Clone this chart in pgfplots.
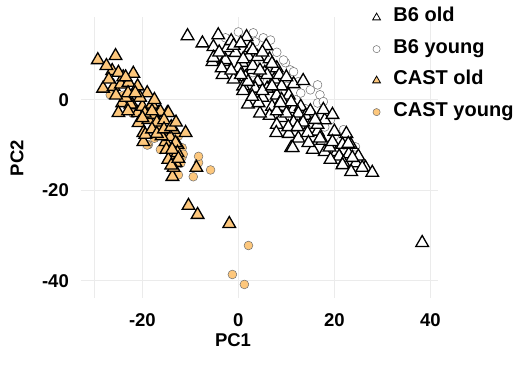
\documentclass[border=0pt]{standalone}
\usepackage{pgfplots}
\pgfplotsset{compat=1.18}
\usepackage{fontspec}
\setmainfont{Liberation Sans}
\definecolor{castorange}{RGB}{253,199,124}
\definecolor{gridgrey}{RGB}{235,235,235}
\definecolor{circgrey}{RGB}{110,110,110}
\begin{document}
\begin{tikzpicture}
\path[use as bounding box] (0pt,0pt) rectangle (518pt,365pt);
\begin{axis}[
  at={(81pt,67pt)}, anchor=south west,
  width=357pt, height=281pt, scale only axis,
  xmin=-32.8, xmax=41.6, ymin=-43.8, ymax=18.3,
  axis line style={draw=none}, tick style={draw=none},
  xtick={-20,0,20,40}, xticklabels={-20,0,20,40},
  ytick={-40,-20,0}, yticklabels={-40,-20,0},
  extra x ticks={-30}, extra x tick labels={},
  extra x tick style={grid=major},
  grid=major, major grid style={color=gridgrey, line width=0.8pt},
  tick label style={font=\fontsize{18.5}{18.5}\selectfont\bfseries, inner sep=0pt},
  xticklabel style={anchor=north, yshift=-15pt},
  yticklabel style={anchor=east, xshift=-12pt},
  xlabel={PC1}, ylabel={PC2},
  every axis x label/.style={at={(axis description cs:0.4258,-0.1495)}, anchor=center, font=\fontsize{18.5}{18.5}\selectfont\bfseries},
  every axis y label/.style={at={(axis description cs:-0.179,0.498)}, anchor=center, rotate=90, font=\fontsize{18.5}{18.5}\selectfont\bfseries},
  legend image code/.code={\draw[#1] plot coordinates {(0pt,0pt)};},
  legend cell align=left,
  legend style={draw=none, fill=none, at={(axis description cs:0.8165,1.027)}, anchor=north west,
    font=\fontsize{20}{20}\selectfont\bfseries, inner sep=0pt, row sep=15.5pt,
    nodes={text height=12pt, text depth=4pt, inner sep=0pt},
    /tikz/every odd column/.style={column sep=13pt}},
]
% B6 young (open circles)
\addplot[forget plot, only marks, mark=*, mark size=4.4pt, mark options={fill=white, draw=circgrey, line width=0.5pt}] coordinates {
(0,15) (-2.7,13.7) (3.1,14.8) (3.5,12.8) (5.2,13.7) (6.7,13.2) (9.8,8.2) (9.4,8.8) (10.8,6.6) (11.5,6.2)
(12.5,4) (15,2.2) (16.5,3.3) (17,1.1) (16.5,-0.7) (17.7,-0.4) (19.2,-4.4) (21.9,-6.6) (24.4,-10.4)
(2,10) (5,8) (7,6) (10,3) (12,0) (14,-2) (16,-4) (18,-6) (20,-8) (22,-10) (6,4) (8,2) (3,6) (8,10.5) (13,1.5)
};
% CAST young (orange circles)
\addplot[forget plot, only marks, mark=*, mark size=4.4pt, mark options={fill=castorange, draw=circgrey, line width=0.5pt}] coordinates {
(2.1,-32.2) (-1.25,-38.6) (1.25,-40.8) (-5.8,-15.5) (-9.4,-17) (-8.3,-13.9) (-12.5,-16.6) (-11.7,-12.6)
(-11.7,-10.6) (-16.25,-11) (-18.75,-9.9) (-26.7,1.1) (-19,-10) (-12,-14) (-22,-3) (-15,-7) (-12.5,-8)
(-17.5,-8.5) (-24,1) (-20,-2) (-11.5,-12) (-8.3,-12.5)
};
% B6 old (white triangles)
\addplot[forget plot, only marks, mark=triangle*, mark size=7.3pt, mark options={fill=white, draw=black, line width=1.3pt}] coordinates {
(-10.6,14.1) (1.7,13.9) (-4.2,14.3) (-5.2,11.7) (-5.4,8.4) (-3.1,8.4) (-3.3,5.5) (-2.1,10.6) (-0.6,10.4)
(2.5,11.5) (5.8,11.9) (-5.2,9.3) (-2.7,8.8) (2.1,9.5) (0.8,8.2) (2.9,6.6) (-2.3,11.5)
(0,7) (1.5,5) (3,7.5) (4,4) (5.5,6) (6,2.5) (7.5,4.5) (8,1) (9,3) (9.5,-1.5) (10.5,1) (11.5,-2) (12,-4)
(13,-1.5) (14,-3.5) (15,-5.5) (5,0.5) (7,-1.5) (3.5,2.5) (1,3) (-1,4.5) (6.5,-3.5) (9,-4) (10.5,-7.5)
(12.5,-8.5) (16.5,-7) (17.5,-9) (15.5,-11) (18,-11.5) (20.5,-11.5) (24.5,-14) (26.5,-15) (20,-7) (22.5,-7.5)
(6.5,9) (4,9.5) (8,7) (11.5,3.5) (-7.5,12.5) (-1.5,13) (1,2) (2,-1) (4.5,-3) (8,-5.5)
(1,9) (3,11) (5,10.5) (7,8) (6,5.5) (8.5,5.5) (10,5) (4.5,6.5) (2,4) (5,2) (7,3) (9,0) (11,-0.5)
(12.5,-3) (10,-3) (8,-2.5) (13.5,-5) (11.5,-5) (15,-2.5) (16.5,-5.5) (18,-4.5) (17,-8.5) (19,-10.5)
(21,-12.5) (23,-12) (25,-12.5) (-4,10.5) (-1,12) (0.5,12.5) (-3.5,7) (-1.5,6.5) (0.5,5.5)
(13.5,4.2) (4.2,-0.7) (2.9,0.7) (8.75,-0.7) (7.9,-7.3) (11,-10.6) (10.4,-6) (12.3,-6) (14.4,-7.3)
(16,-4.4) (17.7,-2.2) (19.6,-3.3) (19.6,-9.3) (21.7,-9.9) (23.4,-9.9) (21.9,-13.9) (23.75,-12.8)
(25.8,-15) (27.9,-16.1) (19.2,-13.2) (38.3,-31.6) (11.3,-10.6) (14.6,-9.5) (22.9,-9.7) (21.7,-14.4) (23.5,-15.9)
};
% CAST old (orange triangles)
\addplot[forget plot, only marks, mark=triangle*, mark size=7.3pt, mark options={fill=castorange, draw=black, line width=1.3pt}] coordinates {
(-29.3,8.8) (-25.6,9.7) (-26.3,6.4) (-21.9,5.8) (-28.2,2.5) (-26.0,2.9) (-24.5,3.4) (-22.9,3.8) (-21.0,3.0)
(-19.0,1.5) (-22.1,-1.1) (-24.2,-0.7) (-25.0,-2.9) (-22.5,-1.0) (-21.0,-2.9) (-20.0,-1.5) (-20.8,-5.1)
(-18.75,-4.4) (-16.7,-2.9) (-14.8,-2.9) (-16.25,-6) (-13.5,-6.6) (-11.0,-7.3) (-19.8,-7.3) (-19.8,-9.3)
(-15.2,-9.3) (-12.7,-9.9) (-14.2,-12.6) (-13.1,-13.9) (-13.75,-17) (-8.75,-15) (-10.4,-23.4) (-8.5,-25.4)
(-1.9,-27.4) (-19.4,-7.7) (-14.2,-8.2) (-13.1,-9.5) (-12.7,-11.7) (-14.6,-13.2) (-13.5,-15) (-16.25,-2.6)
(-14.6,-2.9) (-17.7,-3.3) (-23.5,0.5) (-18,-1) (-17,-5) (-15.5,-4.5) (-17.5,0) (-20.5,0.5) (-24,5)
(-27,4.5) (-23,1.5) (-19.5,-3) (-16,-8) (-15,-11) (-13.8,-11) (-18,-6.5)
(-27.5,7.5) (-25,6) (-23.5,5) (-25.5,1) (-21.5,1.5) (-23,-2.5) (-20,-4) (-18,-2.5) (-17,-7.5)
(-15.5,-6.5) (-14,-6) (-14,-14.5) (-12.5,-13) (-13,-5)
};
\addlegendimage{mark=triangle*, mark size=4.5pt, mark options={fill=white, draw=black, line width=0.8pt}}
\addlegendentry{B6 old}
\addlegendimage{mark=*, mark size=3.6pt, mark options={fill=white, draw=circgrey, line width=0.5pt}}
\addlegendentry{B6 young}
\addlegendimage{mark=triangle*, mark size=4.5pt, mark options={fill=castorange, draw=black, line width=0.8pt}}
\addlegendentry{CAST old}
\addlegendimage{mark=*, mark size=3.6pt, mark options={fill=castorange, draw=circgrey, line width=0.5pt}}
\addlegendentry{CAST young}
\end{axis}
\end{tikzpicture}
\end{document}
